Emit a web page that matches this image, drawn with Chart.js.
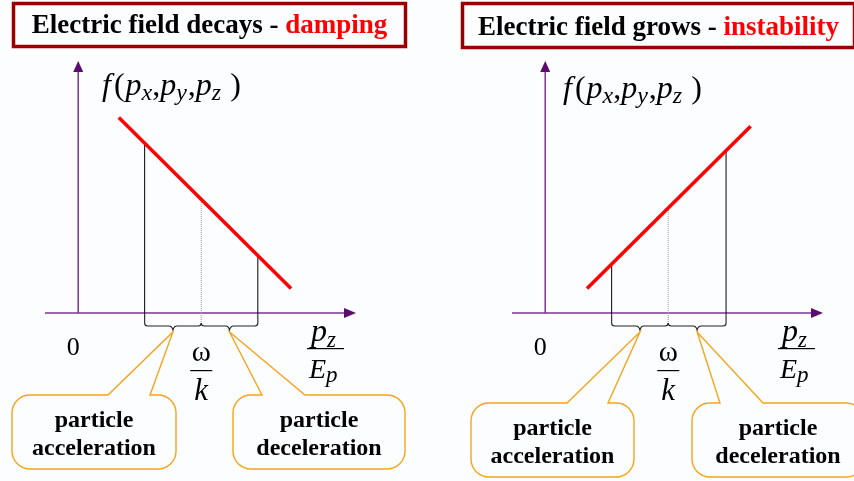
<!DOCTYPE html>
<html>
<head>
<meta charset="utf-8">
<script src="https://cdn.jsdelivr.net/npm/chart.js@4.4.0/dist/chart.umd.min.js"></script>
<style>
  html, body { margin: 0; padding: 0; background: #fbfdff; }
  #wrap { display: flex; width: 854px; height: 481px; overflow: hidden; }
  canvas { display: block; }
</style>
</head>
<body>
<div id="wrap">
  <canvas id="left" width="427" height="481"></canvas>
  <canvas id="right" width="427" height="481"></canvas>
</div>
<script>
// values, x in units of omega/k, f in the same units
const titleText = ["Electric field decays - ", "Electric field grows - "];
const titleWord = ["damping", "instability"];
const lineX = [[0.33, 1.73], [0.34, 1.67]];
const lineF = [[1.59, 0.20], [0.20, 1.52]];
const markX = [[0.54, 1.0, 1.46], [0.54, 1.0, 1.47]];
const markF = [[1.38, 0.92, 0.47], [0.40, 0.86, 1.32]];
const calloutText = [["particle", "acceleration"], ["particle", "deceleration"]];
const xMin = -0.27, xMax = 2.25, yMax = 2.05;

const SERIF = '"Liberation Serif", "Times New Roman", serif';
const PURPLE = '#7e3592';
const ARROW = '#5c0c6c';
const ORANGE = '#f7a31c';

// page layout of the two panels (canvas coords)
const layouts = [
  {
    pad: { left: 45, right: 72, top: 61, bottom: 168 },
    box: { x: 12, y: 2, w: 395, h: 46 }, titleY: 33,
    fLabel: { x: 102, y: 95 }, fracX: 325,
    callouts: [{ x: 12, y: 395, w: 164, h: 74, a: 108, b: 150 },
               { x: 233, y: 395, w: 172, h: 74, a: 262, b: 305 }]
  },
  {
    pad: { left: 85, right: 32, top: 61, bottom: 168 },
    box: { x: 34, y: 2, w: 395, h: 47 }, titleY: 35,
    fLabel: { x: 136, y: 98 }, fracX: 369,
    callouts: [{ x: 44, y: 403, w: 163, h: 74, a: 140, b: 181 },
               { x: 265, y: 403, w: 172, h: 74, a: 293, b: 336 }]
  }
];

// parts: [text, italic, subscript drop, size, gap after]
const drawParts = (ctx, x, y, parts) => {
  parts.forEach(([t, italic, drop, size, gap]) => {
    ctx.font = (italic ? 'italic ' : '') + size + 'px ' + SERIF;
    ctx.fillText(t, x, y + drop);
    x += ctx.measureText(t).width + (gap || 0);
  });
};

const callout = (ctx, c, tx, ty, lines) => {
  const r = 18, x = c.x, y = c.y, w = c.w, h = c.h;
  ctx.beginPath();
  ctx.moveTo(x + r, y);
  ctx.lineTo(c.a, y);
  ctx.lineTo(tx, ty);
  ctx.lineTo(c.b, y);
  ctx.arcTo(x + w, y, x + w, y + h, r);
  ctx.arcTo(x + w, y + h, x, y + h, r);
  ctx.arcTo(x, y + h, x, y, r);
  ctx.arcTo(x, y, x + w, y, r);
  ctx.closePath();
  ctx.strokeStyle = ORANGE;
  ctx.lineWidth = 1.4;
  ctx.stroke();
  ctx.fillStyle = '#000';
  ctx.font = 'bold 24px ' + SERIF;
  ctx.textAlign = 'center';
  ctx.textBaseline = 'middle';
  ctx.fillText(lines[0], x + w / 2, y + h / 2 - 11);
  ctx.fillText(lines[1], x + w / 2, y + h / 2 + 17);
  ctx.textAlign = 'left';
  ctx.textBaseline = 'alphabetic';
};

const panelPlugin = (i, L) => ({
  id: 'panel' + i,
  beforeDatasetsDraw(chart) {
    const ctx = chart.ctx;
    const xs = chart.scales.x, ys = chart.scales.y;
    const ox = xs.getPixelForValue(0), oy = ys.getPixelForValue(0);
    const area = chart.chartArea;
    ctx.save();

    // title box
    ctx.strokeStyle = '#9b0000';
    ctx.lineWidth = 3.5;
    ctx.strokeRect(L.box.x + 1.5, L.box.y + 1.5, L.box.w - 3, L.box.h - 3);
    ctx.font = 'bold 27px ' + SERIF;
    const w1 = ctx.measureText(titleText[i]).width;
    const w2 = ctx.measureText(titleWord[i]).width;
    let tx = L.box.x + (L.box.w - w1 - w2) / 2;
    ctx.fillStyle = '#000';
    ctx.fillText(titleText[i], tx, L.titleY);
    ctx.fillStyle = '#ff0000';
    ctx.fillText(titleWord[i], tx + w1, L.titleY);

    // axes
    ctx.strokeStyle = PURPLE;
    ctx.lineWidth = 1.5;
    ctx.beginPath();
    ctx.moveTo(ox, oy);
    ctx.lineTo(ox, area.top + 8);
    ctx.moveTo(area.left, oy);
    ctx.lineTo(area.right - 8, oy);
    ctx.stroke();
    ctx.fillStyle = ARROW;
    ctx.beginPath();
    ctx.moveTo(ox, area.top);
    ctx.lineTo(ox - 5, area.top + 11);
    ctx.lineTo(ox + 5, area.top + 11);
    ctx.closePath();
    ctx.fill();
    ctx.beginPath();
    ctx.moveTo(area.right + 1, oy);
    ctx.lineTo(area.right - 11, oy - 5);
    ctx.lineTo(area.right - 11, oy + 5);
    ctx.closePath();
    ctx.fill();

    // braces under the marks
    const m = markX[i].map(v => xs.getPixelForValue(v));
    const by = oy + 13;
    ctx.strokeStyle = '#222';
    ctx.lineWidth = 1.1;
    const brace = (x1, x2) => {
      const pm = (x1 + x2) / 2;
      ctx.beginPath();
      ctx.moveTo(x1, by - 3);
      ctx.quadraticCurveTo(x1, by, x1 + 3, by);
      ctx.lineTo(pm - 4, by);
      ctx.quadraticCurveTo(pm - 1, by, pm, by + 4);
      ctx.quadraticCurveTo(pm + 1, by, pm + 4, by);
      ctx.lineTo(x2 - 3, by);
      ctx.quadraticCurveTo(x2, by, x2, by - 3);
      ctx.stroke();
    };
    brace(m[0], m[1]);
    brace(m[1], m[2]);
    ctx.beginPath();
    ctx.moveTo(m[0], oy); ctx.lineTo(m[0], by - 3);
    ctx.moveTo(m[2], oy); ctx.lineTo(m[2], by - 3);
    ctx.stroke();
    ctx.strokeStyle = '#999';
    ctx.setLineDash([1, 1]);
    ctx.beginPath();
    ctx.moveTo(m[1], oy); ctx.lineTo(m[1], by - 3);
    ctx.stroke();
    ctx.setLineDash([]);

    // labels
    ctx.fillStyle = '#000';
    ctx.textAlign = 'center';
    ctx.font = '26px ' + SERIF;
    ctx.fillText('0', ox - 5, oy + 42);
    ctx.font = '29px ' + SERIF;
    ctx.fillText('\u03c9', m[1], oy + 48);
    ctx.font = 'italic 31px ' + SERIF;
    ctx.fillText('k', m[1], oy + 87);
    ctx.fillRect(m[1] - 11, oy + 57, 22, 1.2);
    ctx.fillRect(L.fracX - 18, oy + 35, 37, 1.2);
    ctx.textAlign = 'left';
    drawParts(ctx, L.fracX - 14, oy + 28, [['p', 1, 0, 32], ['z', 1, 6, 23]]);
    drawParts(ctx, L.fracX - 16, oy + 65, [['E', 1, 0, 28], ['p', 1, 4, 23]]);
    drawParts(ctx, L.fLabel.x, L.fLabel.y, [
      ['f', 1, 0, 32, 3], ['(', 0, 0, 32, 1], ['p', 1, 0, 32], ['x', 1, 5, 24], [',', 0, 0, 32],
      ['p', 1, 0, 32], ['y', 1, 5, 24, 1], [',', 0, 0, 32], ['p', 1, 0, 32], ['z', 1, 5, 24, 9], [')', 0, 0, 32]
    ]);
    ctx.restore();
  },
  afterDatasetsDraw(chart) {
    const ctx = chart.ctx;
    const xs = chart.scales.x, ys = chart.scales.y;
    const oy = ys.getPixelForValue(0);
    const m = markX[i].map(v => xs.getPixelForValue(v));
    ctx.save();
    L.callouts.forEach((c, j) => {
      callout(ctx, c, (m[j] + m[j + 1]) / 2, oy + 19, calloutText[j]);
    });
    ctx.restore();
  }
});

const makePanel = (id, i) => {
  const L = layouts[i];
  return new Chart(document.getElementById(id), {
    type: 'line',
    data: {
      datasets: [
        {
          data: lineX[i].map((x, j) => ({ x: x, y: lineF[i][j] })),
          borderColor: '#ff0000',
          borderWidth: 3.5
        },
        ...markX[i].map((x, j) => ({
          data: [{ x: x, y: 0 }, { x: x, y: markF[i][j] }],
          borderColor: j === 1 ? '#9a9a9a' : '#000',
          borderWidth: 1,
          borderDash: j === 1 ? [1, 1] : []
        }))
      ]
    },
    options: {
      responsive: false,
      animation: false,
      events: [],
      layout: { padding: L.pad },
      elements: { point: { radius: 0 }, line: { tension: 0 } },
      scales: {
        x: { type: 'linear', min: xMin, max: xMax, display: false },
        y: { type: 'linear', min: 0, max: yMax, display: false }
      },
      plugins: { legend: { display: false }, tooltip: { enabled: false } }
    },
    plugins: [panelPlugin(i, L)]
  });
};

makePanel('left', 0);
makePanel('right', 1);
</script>
</body>
</html>
